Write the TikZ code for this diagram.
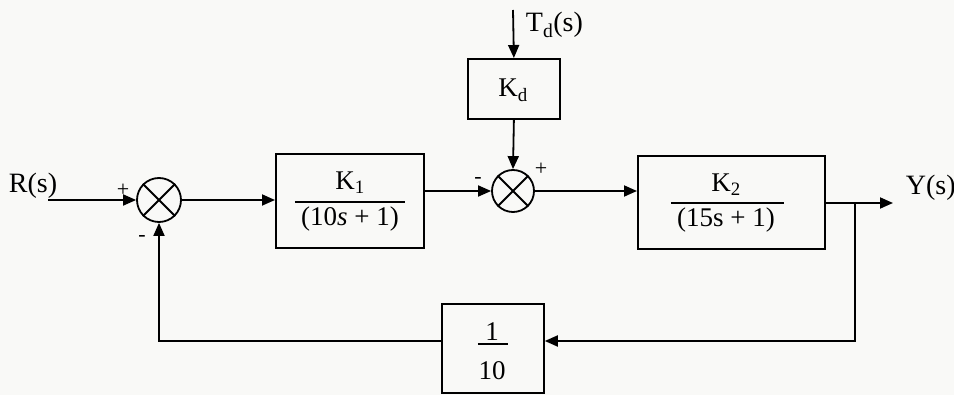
\documentclass[tikz,border=0pt]{standalone}
\usepackage{fontspec}
\setmainfont{Liberation Serif}
\usetikzlibrary{arrows.meta}
\begin{document}
\begin{tikzpicture}[x=1pt,y=-1pt,
  line width=1.8pt,
  >={Triangle[length=13pt,width=11pt]},
  blk/.style={draw, line width=1.8pt, inner sep=0pt, anchor=north west},
  sumc/.style={draw, circle, line width=1.8pt, minimum size=44pt, inner sep=0pt},
  lbl/.style={font=\fontsize{28}{32}\selectfont, inner sep=0pt, anchor=base west},
  sgn/.style={font=\fontsize{22}{24}\selectfont, inner sep=0pt},
  ftxt/.style={font=\fontsize{27}{30}\selectfont, inner sep=0pt, anchor=base},
  fbar/.style={line width=1.3pt}
]
\useasboundingbox[fill={rgb,255:red,249;green,249;blue,247}] (0,0) rectangle (954,395);

% blocks
\node[blk, minimum width=148pt, minimum height=94pt] (K1) at (275,153) {};
\node[ftxt] (K1n) at (350,190) {K\textsubscript{1}};
\node[ftxt] (K1d) at (350,226) {(10\textit{s} + 1)};
\draw[fbar] ([xshift=-55pt,yshift=-1pt]K1.center) -- ([xshift=55pt,yshift=-1pt]K1.center);

\node[blk, minimum width=187pt, minimum height=93pt] (K2) at (637,155) {};
\node[ftxt] (K2n) at (726,192) {K\textsubscript{2}};
\node[ftxt] (K2d) at (726,227) {(15s + 1)};
\draw[fbar] ([xshift=-60.5pt,yshift=-0.5pt]K2.center) -- ([xshift=52.5pt,yshift=-0.5pt]K2.center);

\node[blk, minimum width=92pt, minimum height=60pt] (Kd) at (467,58) {};
\node[ftxt] (Kdt) at (513,97) {K\textsubscript{d}};

\node[blk, minimum width=102pt, minimum height=89pt] (H) at (441,303) {};
\node[ftxt] (Hn) at (492,341) {1};
\node[ftxt] (Hd) at (492,380) {10};
\draw[fbar] ([xshift=-15pt,yshift=4.5pt]H.center) -- ([xshift=15pt,yshift=4.5pt]H.center);

% summing junctions
\node[sumc] (S1) at (159,200) {};
\draw (S1.north west) -- (S1.south east) (S1.north east) -- (S1.south west);
\node[sumc, minimum size=42pt] (S2) at (513,191) {};
\draw (S2.north west) -- (S2.south east) (S2.north east) -- (S2.south west);

% signals
\node[lbl] (R) at (8,193) {R(s)};
\node[lbl] (Y) at (905,195) {Y(s)};
\node[lbl] (Td) at (525,32) {T\textsubscript{d}(s)};
\coordinate (rin) at (48,200);
\coordinate (yout) at (893,203);
\coordinate (tdin) at (513,10);
\coordinate (br) at (855,203);
\coordinate (fbr) at (855,341);
\coordinate (fbl) at (159,341);

\draw[->] (rin) -- (S1.west);
\draw[->] (S1.east) -- (K1.west |- S1.east);
\draw[->] (K1.east |- S2.west) -- (S2.west);
\draw[->] (S2.east) -- (K2.west |- S2.east);
\draw[->] (K2.east |- yout) -- (yout);
\draw[->] (tdin) -- (Kd.north);
\draw[->] (Kd.south) -- (S2.north);
\draw[->] (br) -- (fbr) -- (H.east |- fbr);
\draw[->] (H.west |- fbl) -- (fbl) -- (S1.south);

% signs
\node[sgn] at (123,190) {+};
\node[sgn] at (142,238) {-};
\node[sgn] at (478,181) {-};
\node[sgn] at (541,169) {+};
\end{tikzpicture}
\end{document}
